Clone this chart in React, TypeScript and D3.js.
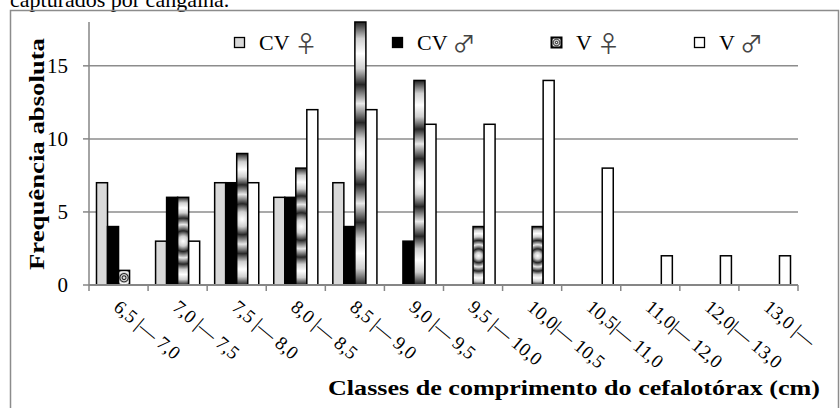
import React from "react";
import * as d3 from "d3";

const categories = [
  "6,5 |— 7,0", "7,0 |— 7,5", "7,5 |— 8,0", "8,0 |— 8,5", "8,5 |— 9,0", "9,0 |— 9,5",
  "9,5 |— 10,0", "10,0|— 10,5", "10,5|— 11,0", "11,0|— 12,0", "12,0|— 13,0", "13,0 |—",
];
const seriesNames = ["CV ♀", "CV ♂", "V ♀", "V ♂"];
const seriesCodes = ["CV", "CV", "V", "V"];
const seriesSymbols = ["♀", "♂", "♀", "♂"];
const cvFemale = [7, 3, 7, 6, 7, 0, 0, 0, 0, 0, 0, 0];
const cvMale = [4, 6, 7, 6, 4, 3, 0, 0, 0, 0, 0, 0];
const vFemale = [1, 6, 9, 8, 18, 14, 4, 4, 0, 0, 0, 0];
const vMale = [0, 3, 7, 12, 12, 11, 11, 14, 8, 2, 2, 2];
const yTicks = [0, 5, 10, 15];
const yTitle = "Frequência absoluta";
const xTitle = "Classes de comprimento do cefalotórax (cm)";
const caption = "capturados por cangalha.";

const W = 840, H = 408;
const plot = { left: 89, right: 798, top: 22, bottom: 285 };
const serif = "'Liberation Serif', 'Times New Roman', serif";

const seriesValues = [cvFemale, cvMale, vFemale, vMale];
const fills = ["#d9d9d9", "#000000", "pattern", "#ffffff"];

export default function App() {
  const x = d3.scaleBand<string>().domain(categories).range([plot.left, plot.right]).padding(0);
  const step = x.step();
  const xs = d3.scaleBand<string>().domain(seriesNames).range([0, step]).paddingInner(0).paddingOuter(0.68);
  const y = d3.scaleLinear().domain([0, 18]).range([plot.bottom, plot.top]);
  const bw = xs.bandwidth();

  const bars: any[] = [];
  seriesValues.forEach((vals, si) => {
    vals.forEach((v, ci) => {
      if (v <= 0) return;
      const bx = (x(categories[ci]) as number) + (xs(seriesNames[si]) as number);
      const by = y(v);
      const bh = y(0) - by;
      bars.push({ si, ci, bx, by, bh, v });
    });
  });

  const boundaries = d3.range(categories.length + 1).map((i) => plot.left + i * step);

  const legendX = [234, 392, 551, 694];

  return (
    <svg width={W} height={H} style={{ position: "absolute", left: 0, top: 0, background: "#fff" }}>
      <defs>
        {bars.filter((b) => b.si === 2).map((b) => (
          <radialGradient
            key={"g" + b.ci}
            id={"vf" + b.ci}
            gradientUnits="userSpaceOnUse"
            cx={b.bx + bw / 2}
            cy={b.by + b.bh / 2}
            r={Math.max(3, b.bh * 0.19)}
            spreadMethod="reflect"
          >
            <stop offset="0" stopColor="#ffffff" />
            <stop offset="0.3" stopColor="#cfcfcf" />
            <stop offset="0.62" stopColor="#262626" />
            <stop offset="1" stopColor="#e8e8e8" />
          </radialGradient>
        ))}
        <radialGradient id="vfLegend" gradientUnits="userSpaceOnUse" cx={legendX[2] + 5.5} cy={42.5} r={2.2} spreadMethod="reflect">
          <stop offset="0" stopColor="#ffffff" />
          <stop offset="0.5" stopColor="#444444" />
          <stop offset="1" stopColor="#d0d0d0" />
        </radialGradient>
      </defs>

      <text x={10} y={7} fontFamily={serif} fontSize={22} fill="#000">{caption}</text>
      <rect x={10.5} y={10.5} width={828} height={410} fill="none" stroke="#8c8c8c" strokeWidth={1.5} />

      {/* gridlines */}
      {yTicks.filter((t) => t > 0).map((t) => (
        <line key={"gr" + t} x1={plot.left} x2={plot.right} y1={y(t)} y2={y(t)} stroke="#8c8c8c" strokeWidth={1.5} />
      ))}

      {/* bars */}
      {bars.map((b) => (
        <rect
          key={"b" + b.si + "-" + b.ci}
          x={b.bx}
          y={b.by}
          width={bw}
          height={b.bh}
          fill={b.si === 2 ? `url(#vf${b.ci})` : fills[b.si]}
          stroke="#000"
          strokeWidth={1.5}
        />
      ))}

      {/* axes */}
      <line x1={plot.left} x2={plot.left} y1={plot.top} y2={plot.bottom} stroke="#868686" strokeWidth={1.5} />
      {yTicks.map((t) => (
        <g key={"yt" + t}>
          <line x1={plot.left - 6} x2={plot.left} y1={y(t)} y2={y(t)} stroke="#868686" strokeWidth={1.5} />
          <text x={68} y={y(t)} dy="0.35em" textAnchor="end" fontFamily={serif} fontSize={21} fill="#000">{t}</text>
        </g>
      ))}
      <line x1={plot.left} x2={plot.right} y1={plot.bottom} y2={plot.bottom} stroke="#868686" strokeWidth={2} />
      {boundaries.map((bx, i) => (
        <line key={"xt" + i} x1={bx} x2={bx} y1={plot.bottom} y2={plot.bottom + 6} stroke="#868686" strokeWidth={1.5} />
      ))}
      {categories.map((c) => {
        const cx = (x(c) as number) + step / 2;
        const ax = cx - 6, ay = 309;
        return (
          <text key={"xl" + c} x={ax} y={ay} transform={`rotate(40 ${ax} ${ay})`} fontFamily={serif} fontSize={19} fill="#000">{c}</text>
        );
      })}

      {/* titles */}
      <text transform="translate(44,154) rotate(-90)" textAnchor="middle" fontFamily={serif} fontWeight="bold" fontSize={21} textLength={232} lengthAdjust="spacingAndGlyphs" fill="#000">{yTitle}</text>
      <text x={574} y={395} textAnchor="middle" fontFamily={serif} fontWeight="bold" fontSize={21} textLength={492} lengthAdjust="spacingAndGlyphs" fill="#000">{xTitle}</text>

      {/* legend */}
      {seriesNames.map((s, i) => (
        <g key={"lg" + s}>
          <rect
            x={legendX[i] + 0.5}
            y={37.5}
            width={10}
            height={10}
            fill={i === 2 ? "url(#vfLegend)" : fills[i]}
            stroke="#000"
            strokeWidth={i === 2 ? 2 : 1.3}
          />
          <text x={legendX[i] + 25} y={50} fontFamily={serif} fontSize={22} fill="#000">
            {seriesCodes[i]}
            <tspan dx={5} dy={2} fontFamily="'Noto Sans CJK JP', 'DejaVu Sans', sans-serif" fontSize={23} fill="#444">{seriesSymbols[i]}</tspan>
          </text>
        </g>
      ))}
    </svg>
  );
}
